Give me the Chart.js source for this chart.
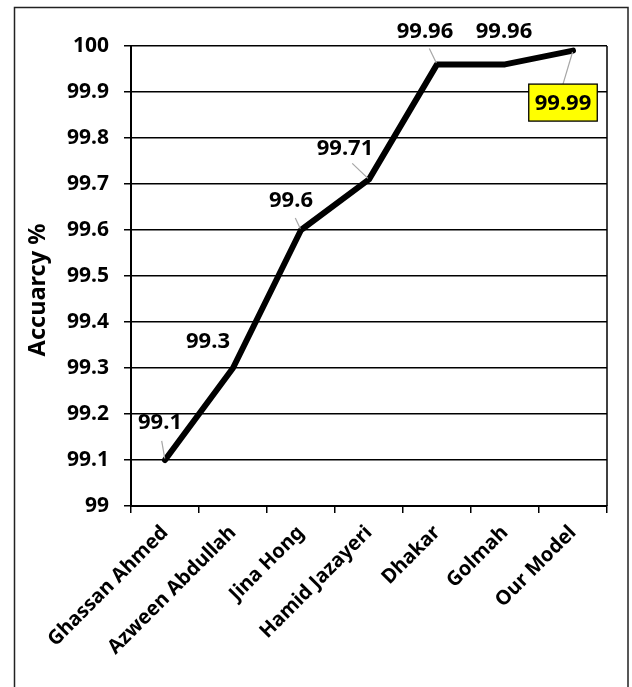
<!DOCTYPE html>
<html>
<head>
<meta charset="utf-8">
<script src="https://cdn.jsdelivr.net/npm/chart.js@4.4.1/dist/chart.umd.min.js"></script>
<style>
  html, body { margin: 0; padding: 0; background: #fff; }
  #wrap { width: 632px; height: 687px; }
</style>
</head>
<body>
<div id="wrap"><canvas id="accChart" width="632" height="687"></canvas></div>
<script>
const authors = ['Ghassan Ahmed', 'Azween Abdullah', 'Jina Hong', 'Hamid Jazayeri', 'Dhakar', 'Golmah', 'Our Model'];
const accuracy = [99.1, 99.3, 99.6, 99.71, 99.96, 99.96, 99.99];
const yMin = 99;
const yMax = 100;
const yStep = 0.1;
const yTitle = 'Accuarcy %';

// where each value label sits relative to its point, in px
const labelShift = [[-5, -38], [-25, -27], [-10, -30], [-24, -32], [-12, -34], [-1, -34], [-10, 52]];
const hasLeader = [true, false, true, true, true, false, true];
const boxed = [false, false, false, false, false, false, true];

const FONT = '"Noto Sans", "DejaVu Sans", sans-serif';

const frame = {
  id: 'frame',
  beforeDraw(chart) {
    const ctx = chart.ctx;
    ctx.save();
    ctx.fillStyle = '#fff';
    ctx.fillRect(0, 0, chart.width, chart.height);
    ctx.strokeStyle = '#222';
    ctx.lineWidth = 1.5;
    ctx.beginPath();
    ctx.moveTo(14.5, chart.height + 2);
    ctx.lineTo(14.5, 7.5);
    ctx.lineTo(628, 7.5);
    ctx.lineTo(628, chart.height + 2);
    ctx.stroke();
    ctx.restore();
  },
  afterDraw(chart) {
    const { ctx, chartArea } = chart;
    ctx.save();
    // right edge of the plot area
    ctx.strokeStyle = '#000';
    ctx.lineWidth = 1.5;
    ctx.beginPath();
    ctx.moveTo(chartArea.right, chartArea.top);
    ctx.lineTo(chartArea.right, chartArea.bottom);
    ctx.stroke();
    // axis title, sitting a bit below the plot's middle
    ctx.translate(38, (chartArea.top + chartArea.bottom) / 2 + 14);
    ctx.rotate(-Math.PI / 2);
    ctx.font = 'bold 23.5px ' + FONT;
    ctx.fillStyle = '#000';
    ctx.textAlign = 'center';
    ctx.textBaseline = 'middle';
    ctx.fillText(yTitle, 0, 0);
    ctx.restore();
  }
};

const valueLabels = {
  id: 'valueLabels',
  afterDatasetsDraw(chart) {
    const ctx = chart.ctx;
    const pts = chart.getDatasetMeta(0).data;
    ctx.save();
    ctx.font = 'bold 22px ' + FONT;
    ctx.textAlign = 'center';
    ctx.textBaseline = 'middle';
    pts.forEach((pt, i) => {
      const txt = String(accuracy[i]);
      const cx = pt.x + labelShift[i][0];
      const cy = pt.y + labelShift[i][1];
      const w = ctx.measureText(txt).width + (boxed[i] ? 12 : 0);
      const h = boxed[i] ? 37 : 18;
      if (hasLeader[i]) {
        // leader runs from the label's near edge (centre) to the point
        const sx = cx;
        const sy = pt.y > cy ? cy + h / 2 : cy - h / 2;
        const dx = pt.x - sx, dy = pt.y - sy;
        const d = Math.hypot(dx, dy) || 1;
        const gap = boxed[i] ? 0 : Math.min(10, d - 4);
        ctx.strokeStyle = '#a6a6a6';
        ctx.lineWidth = 1.2;
        ctx.beginPath();
        ctx.moveTo(sx + dx / d * gap, sy + dy / d * gap);
        ctx.lineTo(pt.x - dx / d * 1.5, pt.y - dy / d * 1.5);
        ctx.stroke();
      }
      if (boxed[i]) {
        ctx.fillStyle = '#ffff00';
        ctx.fillRect(cx - w / 2, cy - h / 2, w, h);
        ctx.strokeStyle = '#000';
        ctx.lineWidth = 1.3;
        ctx.strokeRect(cx - w / 2, cy - h / 2, w, h);
      }
      ctx.fillStyle = '#000';
      ctx.fillText(txt, cx, cy + 1);
    });
    ctx.restore();
  }
};

new Chart(document.getElementById('accChart'), {
  type: 'line',
  data: {
    labels: authors,
    datasets: [{
      data: accuracy,
      borderColor: '#000',
      borderWidth: 6,
      borderCapStyle: 'round',
      borderJoinStyle: 'round',
      pointRadius: 0,
      tension: 0,
      fill: false
    }]
  },
  options: {
    responsive: false,
    animation: false,
    layout: { padding: { left: 14, top: 46, right: 25, bottom: 0 } },
    plugins: {
      legend: { display: false },
      tooltip: { enabled: false }
    },
    scales: {
      x: {
        offset: true,
        grid: { offset: true, drawOnChartArea: false, color: '#000', lineWidth: 1.5, tickLength: 7 },
        border: { color: '#000', width: 2 },
        ticks: {
          autoSkip: false,
          maxRotation: 45,
          minRotation: 45,
          padding: 8,
          color: '#000',
          font: { family: FONT, size: 20, weight: 'bold' }
        },
        afterFit(scale) { scale.height = 181; }
      },
      y: {
        min: yMin,
        max: yMax,
        grid: { color: '#000', lineWidth: 1.5, tickLength: 7 },
        border: { color: '#000', width: 2 },
        ticks: {
          stepSize: yStep,
          padding: 15,
          color: '#000',
          font: { family: FONT, size: 21, weight: 'bold' },
          callback: v => String(Number(v.toFixed(1)))
        },
        afterFit(scale) { scale.width = 117; }
      }
    }
  },
  plugins: [frame, valueLabels]
});
</script>
</body>
</html>
